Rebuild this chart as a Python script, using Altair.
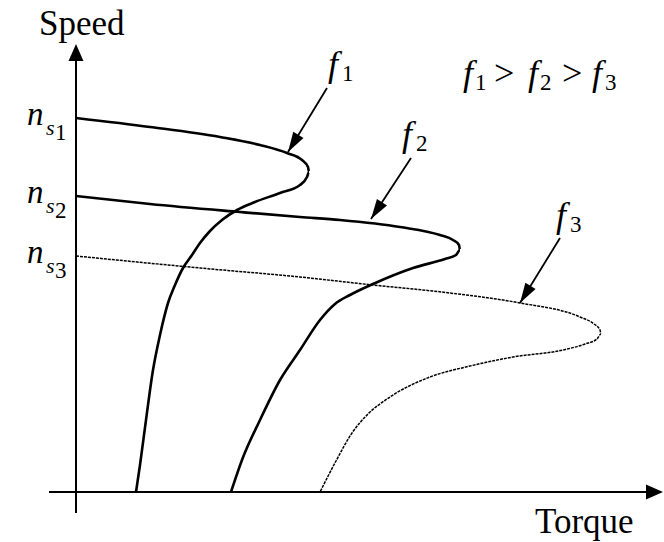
import altair as alt
import pandas as pd
import numpy as np

# Induction-motor torque–speed characteristics at three supply frequencies
# (arbitrary units: torque along x, speed along y)
f1_torque = [0, 14.8, 28.8, 36.8, 42.2, 45.2, 46.4, 46.6, 46.2, 44.8, 40.8, 35.8, 32.2,
             29.2, 26.8, 24.8, 23.2, 21.4, 19.8, 18.4, 16.8, 15.4, 14.0, 12.8, 12.0]
f1_speed = [74.8, 73.0, 71.0, 69.4, 67.8, 66.4, 65.0, 64.0, 63.0, 61.4, 59.8, 58.0, 56.4,
            54.4, 52.2, 49.8, 47.4, 44.8, 41.4, 37.8, 31.4, 24.4, 14.4, 5.4, 0]

f2_torque = [0, 14.8, 32.8, 44.8, 52.8, 64.8, 72.8, 75.4, 76.6, 76.8, 76.0, 73.8,
             67.4, 59.4, 54.8, 51.8, 48.8, 44.8, 40.8, 36.8, 33.2, 31.0]
f2_speed = [59.2, 57.6, 56.0, 55.0, 54.4, 53.0, 51.4, 50.4, 49.4, 48.4, 47.4, 46.6,
            44.8, 41.6, 39.4, 37.6, 34.4, 28.4, 22.4, 14.4, 6.4, 0]

f3_torque = [0, 24.8, 44.8, 59.4, 74.8, 88.8, 100.8, 103.6, 104.8, 105.0, 104.2, 101.8,
             97.4, 87.4, 78.8, 70.8, 62.8, 58.4, 55.2, 52.0, 48.8]
f3_speed = [47.2, 44.8, 43.0, 41.4, 39.8, 37.8, 35.0, 33.6, 32.4, 31.6, 30.6, 29.6,
            28.4, 27.0, 25.2, 23.0, 19.0, 15.6, 11.8, 6.2, 0]

# synchronous speeds n_s1, n_s2, n_s3
sync_index = ["1", "2", "3"]
sync_speed = [74.8, 59.2, 47.2]

# curve labels f1, f2, f3 and the arrows pointing at each curve
curve_index = ["1", "2", "3"]
label_torque = [50.4, 65.2, 96.0]
label_speed = [83.2, 69.2, 53.0]
arrow_start_torque = [50.2, 67.0, 96.8]
arrow_start_speed = [80.8, 66.8, 50.8]
arrow_tip_torque = [42.4, 59.0, 88.8]
arrow_tip_speed = [68.0, 54.6, 37.8]

# axis extents
x_axis_from, x_axis_tip = -5.4, 117.4
y_axis_from, y_axis_tip = -4.2, 89.6

# frequency ordering note
relation_tokens = ["f", "1", ">", "f", "2", ">", "f", "3"]
relation_torque, relation_speed = 77.4, 81.4

SERIF = "'Liberation Serif', 'Times New Roman', serif"

curves = pd.concat(
    [
        pd.DataFrame({"torque": t, "speed": s, "curve": name, "idx": range(len(t))})
        for name, t, s in [
            ("f1", f1_torque, f1_speed),
            ("f2", f2_torque, f2_speed),
            ("f3", f3_torque, f3_speed),
        ]
    ],
    ignore_index=True,
)

x_scale = alt.Scale(domain=[-15.2, 117.6], nice=False, zero=False)
y_scale = alt.Scale(domain=[-10.0, 98.4], nice=False, zero=False)


def X(field="torque"):
    return alt.X(f"{field}:Q", scale=x_scale, axis=None)


def Y(field="speed"):
    return alt.Y(f"{field}:Q", scale=y_scale, axis=None)


base = alt.Chart(curves)

# torque is single-valued in speed, so the curves are smoothed along the speed axis
solid_curves = base.transform_filter(alt.datum.curve != "f3").mark_line(
    interpolate="monotone", orient="horizontal", color="black", strokeWidth=2.6
).encode(x=X(), y=Y(), detail="curve:N", order="idx:Q")

dotted_curve = base.transform_filter(alt.datum.curve == "f3").mark_line(
    interpolate="monotone", orient="horizontal", color="black", strokeWidth=1.5,
    strokeDash=[3, 1]
).encode(x=X(), y=Y(), order="idx:Q")

# axes drawn as rules with filled arrowheads
axes_df = pd.DataFrame(
    {
        "t0": [x_axis_from, 0.0],
        "t1": [x_axis_tip - 2, 0.0],
        "s0": [0.0, y_axis_from],
        "s1": [0.0, y_axis_tip - 2],
    }
)
axes = alt.Chart(axes_df).mark_rule(color="black", strokeWidth=2).encode(
    x=X("t0"), x2="t1:Q", y=Y("s0"), y2="s1:Q"
)

AXIS_HEAD = "M0,0L0.44,1L-0.44,1Z"
axis_heads_df = pd.DataFrame(
    {"torque": [x_axis_tip, 0.0], "speed": [0.0, y_axis_tip], "angle": [90, 0]}
)
axis_heads = alt.Chart(axis_heads_df).mark_point(
    shape=AXIS_HEAD, filled=True, color="black", opacity=1, size=1156, strokeWidth=0
).encode(x=X(), y=Y(), angle=alt.Angle("angle:Q", scale=None))

# pointer arrows from each label to its curve
ptr = pd.DataFrame(
    {
        "t0": arrow_start_torque,
        "s0": arrow_start_speed,
        "t1": arrow_tip_torque,
        "s1": arrow_tip_speed,
    }
)
# heading of each arrow on screen (x grows right, y grows down), clockwise from up
px_per_unit = 5.0
dx = (ptr["t1"] - ptr["t0"]) * px_per_unit
dy = -(ptr["s1"] - ptr["s0"]) * px_per_unit
ptr["angle"] = (np.degrees(np.arctan2(dx, -dy)) + 360) % 360

pointer_lines = alt.Chart(ptr).mark_rule(color="black", strokeWidth=1.8).encode(
    x=X("t0"), x2="t1:Q", y=Y("s0"), y2="s1:Q"
)
POINTER_HEAD = "M0,0L0.3,1L-0.3,1Z"
pointer_heads = alt.Chart(ptr).mark_point(
    shape=POINTER_HEAD, filled=True, color="black", opacity=1, size=1600, strokeWidth=0
).encode(x=X("t1"), y=Y("s1"), angle=alt.Angle("angle:Q", scale=None))

# axis titles
titles_df = pd.DataFrame(
    {"torque": [-7.4, 91.8], "speed": [91.4, -8.2], "text": ["Speed", "Torque"]}
)
titles = alt.Chart(titles_df).mark_text(
    font=SERIF, fontSize=35, align="left", baseline="alphabetic", color="black"
).encode(x=X(), y=Y(), text="text:N")

# n_s labels on the speed axis
ns_df = pd.DataFrame({"torque": 0.0, "speed": sync_speed, "sub": sync_index})
ns_n = alt.Chart(ns_df).mark_text(
    font=SERIF, fontSize=33, fontStyle="italic", align="left",
    baseline="alphabetic", dx=-49, dy=7, text="n"
).encode(x=X(), y=Y())
ns_s = alt.Chart(ns_df).mark_text(
    font=SERIF, fontSize=22, fontStyle="italic", align="left",
    baseline="alphabetic", dx=-30, dy=17, text="s"
).encode(x=X(), y=Y())
ns_digit = alt.Chart(ns_df).mark_text(
    font=SERIF, fontSize=23, align="left", baseline="alphabetic", dx=-21, dy=22
).encode(x=X(), y=Y(), text="sub:N")

# f labels above each pointer
fl_df = pd.DataFrame({"torque": label_torque, "speed": label_speed, "sub": curve_index})
fl_f = alt.Chart(fl_df).mark_text(
    font=SERIF, fontSize=36, fontStyle="italic", align="left",
    baseline="alphabetic", text="f"
).encode(x=X(), y=Y())
fl_digit = alt.Chart(fl_df).mark_text(
    font=SERIF, fontSize=23, align="left", baseline="alphabetic", dx=14, dy=5
).encode(x=X(), y=Y(), text="sub:N")

# "f1 > f2 > f3"
rel_offsets = [0, 12, 31, 65, 77, 99, 129, 142]
rel_layers = []
for tok, off in zip(relation_tokens, rel_offsets):
    if tok == "f":
        style = dict(fontSize=36, fontStyle="italic", dy=0)
    elif tok == ">":
        style = dict(fontSize=36, dy=0)
    else:
        style = dict(fontSize=23, dy=5)
    rel_layers.append(
        alt.Chart(pd.DataFrame({"torque": [relation_torque], "speed": [relation_speed]}))
        .mark_text(font=SERIF, align="left", baseline="alphabetic", dx=off,
                   text=tok, color="black", **style)
        .encode(x=X(), y=Y())
    )

chart = alt.layer(
    axes, axis_heads, solid_curves, dotted_curve, pointer_lines, pointer_heads,
    titles, ns_n, ns_s, ns_digit, fl_f, fl_digit, *rel_layers,
).properties(
    width=664, height=542, autosize=alt.AutoSizeParams(type="none"), padding=0,
    background="white",
).configure_view(stroke=None)

chart.save("out.html", embed_options={"renderer": "svg", "actions": False})
